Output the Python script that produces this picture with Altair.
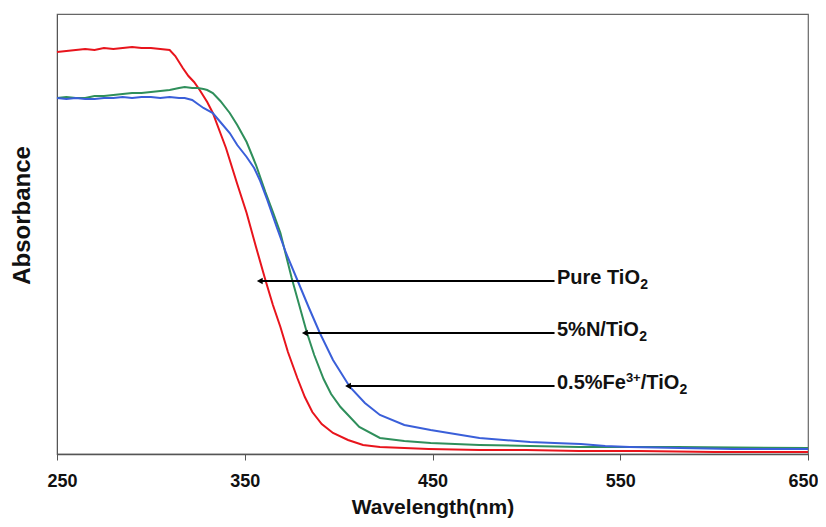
import altair as alt
import pandas as pd

# Wavelength (nm) and absorbance (a.u.)
pure_nm = [250, 255, 260, 265, 270, 275, 280, 285, 290, 295, 300, 305, 310, 313, 317, 320, 323, 326, 330, 333,
           337, 340, 342, 346, 351, 356, 361, 365, 369, 373, 378, 382, 386, 391, 397, 405, 413, 422, 435, 448,
           475, 500, 528, 560, 600, 650]
pure_abs = [4.02, 4.03, 4.04, 4.05, 4.04, 4.06, 4.05, 4.06, 4.07, 4.06, 4.06, 4.05, 4.04, 3.98, 3.86, 3.78, 3.72,
            3.64, 3.52, 3.41, 3.21, 3.06, 2.94, 2.70, 2.41, 2.07, 1.74, 1.49, 1.27, 1.02, 0.76, 0.57, 0.42, 0.30,
            0.21, 0.14, 0.09, 0.07, 0.06, 0.05, 0.04, 0.04, 0.03, 0.03, 0.02, 0.02]

n_nm = [250, 255, 260, 265, 270, 275, 280, 285, 290, 295, 300, 305, 310, 315, 318, 322, 325, 328, 330, 333,
        337, 342, 346, 351, 356, 361, 365, 369, 375, 379, 383, 387, 392, 396, 401, 411, 422, 435, 449, 475,
        502, 528, 580, 650]
n_abs = [3.56, 3.57, 3.56, 3.56, 3.58, 3.58, 3.59, 3.60, 3.61, 3.61, 3.62, 3.63, 3.64, 3.66, 3.67, 3.66, 3.66,
         3.65, 3.64, 3.61, 3.53, 3.41, 3.29, 3.12, 2.89, 2.62, 2.42, 2.21, 1.76, 1.49, 1.22, 0.99, 0.75, 0.60,
         0.47, 0.27, 0.16, 0.13, 0.11, 0.09, 0.08, 0.07, 0.07, 0.06]

fe_nm = [250, 255, 260, 265, 270, 275, 280, 285, 290, 295, 300, 305, 310, 315, 318, 322, 325, 328, 333, 337,
         342, 346, 351, 355, 358, 362, 367, 372, 378, 384, 390, 397, 406, 414, 422, 435, 449, 462, 475, 488,
         502, 515, 529, 542, 555, 582, 610, 650]
fe_abs = [3.56, 3.55, 3.56, 3.55, 3.55, 3.56, 3.56, 3.57, 3.56, 3.57, 3.57, 3.56, 3.57, 3.56, 3.56, 3.54, 3.50,
          3.46, 3.41, 3.32, 3.21, 3.09, 2.97, 2.86, 2.74, 2.54, 2.27, 2.01, 1.74, 1.47, 1.21, 0.94, 0.67, 0.51,
          0.39, 0.29, 0.24, 0.20, 0.16, 0.14, 0.12, 0.11, 0.10, 0.08, 0.07, 0.06, 0.05, 0.05]

series_names = ["Pure TiO2", "5%N/TiO2", "0.5%Fe3+/TiO2"]
series_colors = ["#e8141c", "#2f8f5b", "#3a5fd9"]

# Annotation arrows (tip at the curve, tail at the label)
arrow_y = [1.73, 1.21, 0.68]
arrow_tip = [358, 382, 405]
arrow_start = [515, 515, 515]

# Label pieces: main text, subscripts and superscript
main_text = ["Pure TiO", "5%N/TiO", "0.5%Fe", "/TiO"]
main_x = [516.3, 516.3, 516.3, 560.9]
main_y = [1.73, 1.21, 0.68, 0.68]
sub_text = ["2", "2", "2"]
sub_x = [560.7, 560.1, 581.6]
sub_y = [1.73, 1.21, 0.68]
sup_text = ["3+"]
sup_x = [553.0]
sup_y = [0.68]

rows = []
for name, xs, ys in zip(series_names, [pure_nm, n_nm, fe_nm], [pure_abs, n_abs, fe_abs]):
    for i, (x, y) in enumerate(zip(xs, ys)):
        rows.append({"series": name, "nm": x, "abs": y, "order": i})
df = pd.DataFrame(rows)

arrows = pd.DataFrame({"y": arrow_y, "tip": arrow_tip, "start": arrow_start})
mains = pd.DataFrame({"t": main_text, "x": main_x, "y": main_y})
subs = pd.DataFrame({"t": sub_text, "x": sub_x, "y": sub_y})
sups = pd.DataFrame({"t": sup_text, "x": sup_x, "y": sup_y})

xscale = alt.Scale(domain=[250, 650], nice=False, zero=False)
yscale = alt.Scale(domain=[0, 4.40], nice=False)
FONT = "Liberation Sans"

lines = alt.Chart(df).mark_line(strokeWidth=2).encode(
    x=alt.X("nm:Q", scale=xscale,
            axis=alt.Axis(title="Wavelength(nm)", values=[250, 350, 450, 550, 650],
                          grid=False, tickSize=6, tickColor="#555555", domainColor="#555555",
                          domainWidth=1.5, labelFont=FONT,
                          labelFontSize=18, labelFontWeight="bold", labelColor="#111111",
                          labelPadding=12, labelFlush=True, labelFlushOffset=10, labelOverlap=False,
                          titleFont=FONT, titleFontSize=21, titleFontWeight="bold",
                          titleColor="#111111", titlePadding=6)),
    y=alt.Y("abs:Q", scale=yscale,
            axis=alt.Axis(title="Absorbance", labels=False, ticks=False, grid=False,
                          domainColor="#555555", titleFont=FONT, titleFontSize=24,
                          titleFontWeight="bold", titleColor="#111111", titleX=-23, titleY=201)),
    color=alt.Color("series:N", scale=alt.Scale(domain=series_names, range=series_colors), legend=None),
    order="order:Q",
)

rules = alt.Chart(arrows).mark_rule(color="black", strokeWidth=2).encode(
    x="tip:Q", x2="start:Q", y="y:Q"
)

heads = alt.Chart(arrows).mark_point(shape="triangle-left", filled=True, color="black", size=45,
                                     opacity=1).encode(x="tip:Q", y="y:Q")

main_lbl = alt.Chart(mains).mark_text(align="left", baseline="alphabetic", font=FONT, fontSize=20,
                                      fontWeight="bold", color="#111111", dy=3).encode(
    x="x:Q", y="y:Q", text="t:N")
sub_lbl = alt.Chart(subs).mark_text(align="left", baseline="alphabetic", font=FONT, fontSize=14,
                                    fontWeight="bold", color="#111111", dy=8).encode(
    x="x:Q", y="y:Q", text="t:N")
sup_lbl = alt.Chart(sups).mark_text(align="left", baseline="alphabetic", font=FONT, fontSize=13,
                                    fontWeight="bold", color="#111111", dy=-4).encode(
    x="x:Q", y="y:Q", text="t:N")

chart = alt.layer(lines, rules, heads, main_lbl, sub_lbl, sup_lbl).properties(
    width=751, height=440,
    autosize=alt.AutoSizeParams(type="none"),
    padding={"left": 49, "top": 6, "right": 10, "bottom": 64},
).configure_view(stroke="#666666", strokeWidth=1.2)

chart.save("out.html", embed_options={"renderer": "svg", "actions": False})
